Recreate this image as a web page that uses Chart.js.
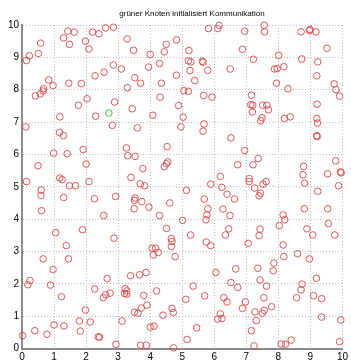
<!DOCTYPE html>
<html>
<head>
<meta charset="utf-8">
<script src="https://cdn.jsdelivr.net/npm/chart.js@4.4.0/dist/chart.umd.min.js"></script>
<style>
    html, body { margin: 0; padding: 0; background: #fff; }
    #wrap { width: 351px; height: 363px; }
</style>
</head>
<body>
<div id="wrap"><canvas id="nodesChart" width="351" height="363"></canvas></div>
<script>
const chartTitle = "grüner Knoten initialisiert Kommunikation";
const axisTicks = [0, 1, 2, 3, 4, 5, 6, 7, 8, 9, 10];

// green node (the one that starts the communication)
const greenX = [2.71];
const greenY = [7.28];

// all other nodes, x column 0..2.5
const redX1 = [0.14, 0.23, 0.58, 0.51, 1.30, 1.43, 1.63, 1.48, 1.98, 2.09, 2.2, 2.4, 0.83, 0.97, 0.67, 0.66, 0.42, 0.57, 1.46, 1.85, 2.28, 1.76, 2.03, 1.18, 2.3, 0.12,
    1.17, 1.29, 0.99, 1.41, 1.91, 2.0, 0.5, 0.14, 1.18, 1.25, 1.48, 1.67, 2.09, 0.6, 0.59, 1.3, 2.26, 0.61, 1.89, 1.05, 1.38,
    0.66, 1.45, 0.97, 0.25, 0.18, 0.89, 2.27, 1.23, 1.98, 1.79, 2.13, 1.0, 1.31, 0.4, 1.82, 0.78, 0.02, 2.38];
const redY1 = [8.9, 9.05, 9.44, 9.12, 9.6, 9.81, 9.78, 9.40, 9.5, 9.26, 9.78, 9.73, 8.3, 8.13, 8.03, 7.96, 7.81, 7.87, 8.2, 8.19, 8.43, 7.52, 7.72, 7.16, 7.18, 6.85,
    6.68, 6.58, 6.04, 6.02, 6.15, 5.7, 5.65, 5.16, 5.27, 5.22, 5.03, 5.03, 5.16, 4.9, 4.73, 4.67, 4.63, 4.26, 3.67, 3.58, 3.18,
    2.77, 2.77, 2.44, 2.1, 1.97, 1.96, 1.84, 1.6, 1.19, 0.85, 0.82, 0.73, 0.7, 0.55, 0.54, 0.44, 0.4, 0.36];

// x column 2.5..5
const redX2 = [2.61, 2.85, 3.28, 3.48, 4.0, 4.44, 4.5, 4.82, 2.85, 3.1, 2.56, 3.95, 4.29, 4.82, 3.52, 3.7, 3.29, 4.35, 4.31, 2.89, 3.44, 4.89, 4.08, 2.82, 3.6, 4.96,
    3.26, 4.53, 3.3, 3.53, 4.55, 4.51, 4.44, 3.77, 3.4, 3.69, 3.83, 2.92, 3.53, 3.51, 3.74, 4.61, 3.96, 3.5, 2.55, 4.29, 5.01, 4.51, 2.87, 4.66,
    4.06, 4.17, 4.1, 4.25, 4.66, 4.68, 4.78, 3.39, 3.87, 3.67, 2.66, 2.75, 2.61, 2.54, 3.22, 3.27, 3.2, 3.27, 3.8, 4.2, 3.9, 3.72, 3.51, 3.62,
    4.68, 4.72, 4.4, 3.12, 4.0, 4.12, 2.42, 2.93, 3.7, 3.88, 4.73];
const redY2 = [9.91, 9.93, 9.57, 9.22, 9.09, 9.17, 9.4, 9.54, 8.76, 8.64, 8.54, 8.7, 8.81, 8.45, 8.37, 8.2, 8.06, 8.2, 7.77, 7.62, 7.41, 7.51, 7.21, 6.9, 6.82, 6.85,
    6.2, 6.24, 5.96, 5.94, 5.77, 5.71, 5.62, 5.56, 5.29, 5.09, 5.03, 4.7, 4.65, 4.58, 4.54, 4.5, 4.37, 4.32, 4.11, 4.11, 3.96, 3.71, 3.41, 3.4,
    3.1, 3.1, 2.89, 2.97, 3.15, 3.31, 2.84, 2.25, 2.35, 2.28, 2.16, 1.71, 1.66, 1.57, 1.85, 1.78, 1.7, 1.68, 1.64, 1.78, 1.34, 1.25, 1.12, 1.09,
    1.24, 1.11, 1.03, 0.85, 0.66, 0.69, 0.35, 0.13, 0.1, 0.1, 0.02];

// x column 5..7.7
const redX3 = [5.82, 6.11, 6.15, 6.95, 7.56, 7.57, 6.88, 5.21, 7.22, 5.19, 5.27, 5.63, 5.65, 6.5, 5.8, 5.24, 5.39, 5.05, 5.19, 5.67, 5.93, 7.16, 7.14, 7.2, 7.51, 7.19, 7.45, 7.49, 5.03, 5.68, 5.65,
    6.52, 6.95, 7.37, 7.21, 6.73, 6.19, 7.09, 7.09, 7.62, 5.89, 6.24, 7.26, 7.52, 7.44, 7.4, 5.13, 6.4, 6.63, 5.69, 5.8, 6.27, 5.77, 6.49, 5.74, 6.45, 7.43, 5.26, 6.35, 7.4, 5.75, 7.06,
    5.89, 6.05, 6.67, 7.36, 7.43, 6.52, 6.73, 7.63, 5.34, 5.11, 5.7, 6.3, 6.4, 6.97, 6.88, 7.55, 7.56, 7.5, 7.27, 7.31, 6.19, 6.24, 6.11, 5.45, 7.16, 5.15, 7.24];
const redY3 = [9.89, 9.89, 9.99, 9.81, 9.99, 9.79, 9.25, 9.21, 8.94, 8.89, 8.86, 8.88, 8.85, 8.64, 8.6, 8.59, 8.28, 7.97, 7.95, 7.82, 7.77, 7.83, 7.54, 7.52, 7.52, 7.31, 7.04, 7.13, 7.15, 6.94, 6.72,
    6.51, 6.12, 5.87, 5.68, 5.68, 5.32, 5.25, 5.16, 5.16, 5.08, 4.98, 4.96, 5.08, 4.8, 4.72, 4.89, 4.77, 4.62, 4.62, 4.32, 4.31, 4.13, 4.11, 3.98, 3.7, 3.69, 3.51, 3.51, 3.49, 3.29, 3.25,
    3.18, 2.35, 2.46, 2.48, 2.12, 2.04, 1.89, 1.93, 1.93, 1.52, 1.63, 1.57, 1.44, 1.44, 1.24, 1.57, 1.18, 1.09, 1.13, 0.86, 1.07, 0.93, 0.91, 0.64, 0.55, 0.28, 0.08];

// x column 7.7..10
const redX4 = [8.71, 8.97, 8.99, 9.17, 9.52, 8.01, 8.73, 9.23, 8.17, 7.88, 7.96, 9.2, 7.94, 8.3, 9.74, 9.8, 9.91, 9.21, 7.64, 7.69, 8.19, 8.37, 9.2, 9.22,
    9.2, 9.21, 9.79, 8.79, 8.77, 9.54, 9.94, 9.96, 8.82, 9.88, 9.23, 8.81, 9.54, 8.15, 8.2, 8.03, 9.56, 8.89, 9.07, 9.76, 8.15,
    8.17, 8.6, 8.97, 7.86, 7.84, 9.19, 8.74, 8.71, 9.1, 9.35, 8.57, 7.79, 9.35, 9.95, 8.4, 8.09, 8.22, 9.91];
const redY4 = [9.79, 9.83, 9.86, 9.79, 9.28, 9.06, 8.95, 8.86, 8.71, 8.64, 8.65, 8.43, 8.2, 8.03, 8.18, 8.0, 7.8, 7.55, 7.52, 7.38, 7.11, 7.16, 7.11, 6.97,
    6.58, 6.55, 5.8, 5.63, 5.37, 5.4, 5.46, 5.43, 5.11, 5.03, 4.86, 4.32, 4.32, 4.13, 3.98, 3.8, 3.86, 3.7, 3.51, 3.51, 3.2,
    2.84, 2.93, 2.77, 2.64, 2.4, 2.17, 1.99, 1.81, 1.63, 1.54, 1.57, 1.29, 0.97, 0.88, 0.26, 0.14, 0.13, 0.21];

const toPoints = (xs, ys) => xs.map((x, i) => ({ x: x, y: ys[i] }));
const redPoints = [].concat(
    toPoints(redX1, redY1),
    toPoints(redX2, redY2),
    toPoints(redX3, redY3),
    toPoints(redX4, redY4)
);

// draw the title centred above the plot like the original figure
const titlePlugin = {
    id: 'figTitle',
    afterDraw(chart) {
        const c = chart.ctx;
        c.save();
        c.font = '8px "Liberation Sans", Arial, sans-serif';
        c.fillStyle = '#000';
        c.textAlign = 'center';
        c.textBaseline = 'middle';
        c.fillText(chartTitle, 192, 14);
        c.restore();
    }
};

const axisOptions = (fitFn) => ({
    type: 'linear',
    min: axisTicks[0],
    max: axisTicks[axisTicks.length - 1],
    afterBuildTicks: (scale) => {
        scale.ticks = axisTicks.map(v => ({ value: v }));
    },
    afterFit: fitFn,
    grid: {
        color: '#bcbcbc',
        lineWidth: 1,
        tickLength: 0,
        drawTicks: false
    },
    border: {
        display: true,
        color: '#8c8c8c',
        width: 2,
        dash: [1, 2]
    },
    ticks: {
        color: '#000',
        font: { family: '"Liberation Sans", Arial, sans-serif', size: 10 },
        padding: 3,
        autoSkip: false,
        maxRotation: 0
    }
});

const ctx = document.getElementById('nodesChart').getContext('2d');
new Chart(ctx, {
    type: 'scatter',
    data: {
        datasets: [{
            label: 'Knoten',
            data: redPoints,
            borderColor: 'rgba(212, 70, 70, 0.9)',
            backgroundColor: 'rgba(0,0,0,0)',
            borderWidth: 1,
            pointRadius: 3.3,
            pointHoverRadius: 3.3,
            clip: false
        }, {
            label: 'grüner Knoten',
            data: toPoints(greenX, greenY),
            borderColor: 'rgba(60, 200, 60, 1)',
            backgroundColor: 'rgba(0,0,0,0)',
            borderWidth: 1,
            pointRadius: 3.3,
            pointHoverRadius: 3.3,
            clip: false
        }]
    },
    options: {
        responsive: false,
        animation: false,
        layout: {
            padding: { top: 25, right: 5, left: 0, bottom: 0 }
        },
        plugins: {
            legend: { display: false },
            title: { display: false },
            tooltip: { enabled: false }
        },
        scales: {
            x: axisOptions((scale) => { scale.height = 14.5; }),
            y: axisOptions((scale) => { scale.width = 22; })
        }
    },
    plugins: [titlePlugin]
});
</script>
</body>
</html>
